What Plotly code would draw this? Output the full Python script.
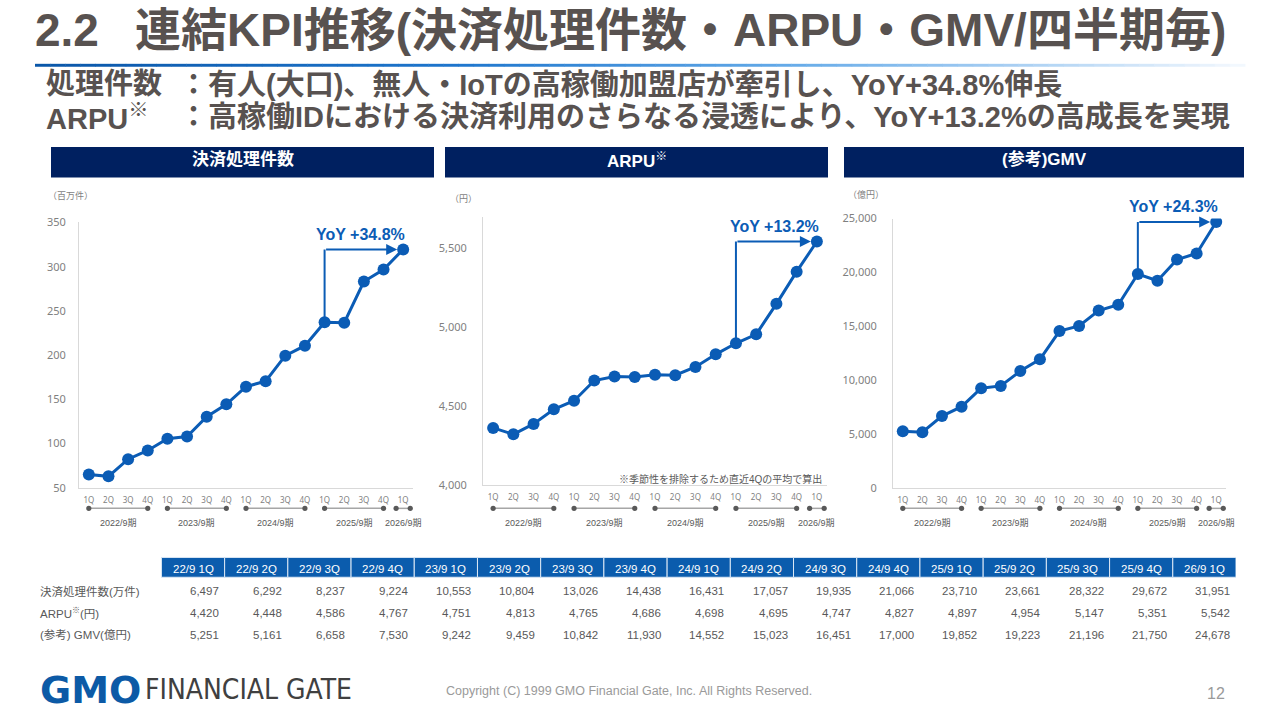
import plotly.graph_objects as go

W, H = 1280, 720


def PX(x):
    return x / W


def PY(y):
    return 1 - y / H


# ---------------- data ----------------
quarters = ["1Q", "2Q", "3Q", "4Q"] * 4 + ["1Q"]
periods = ["22/9 1Q", "22/9 2Q", "22/9 3Q", "22/9 4Q",
           "23/9 1Q", "23/9 2Q", "23/9 3Q", "23/9 4Q",
           "24/9 1Q", "24/9 2Q", "24/9 3Q", "24/9 4Q",
           "25/9 1Q", "25/9 2Q", "25/9 3Q", "25/9 4Q",
           "26/9 1Q"]
fiscal_years = ["2022/9期", "2023/9期", "2024/9期", "2025/9期", "2026/9期"]
fy_quarter_counts = [4, 4, 4, 4, 1]

counts_man = [6497, 6292, 8237, 9224, 10553, 10804, 13026, 14438, 16431,
              17057, 19935, 21066, 23710, 23661, 28322, 29672, 31951]   # 万件
arpu_table = [4420, 4448, 4586, 4767, 4751, 4813, 4765, 4686, 4698,
              4695, 4747, 4827, 4897, 4954, 5147, 5351, 5542]          # 円 (table)
arpu_chart = [4361, 4320, 4386, 4479, 4533, 4661, 4686, 4684, 4698,
              4695, 4747, 4827, 4897, 4954, 5147, 5351, 5542]          # 円 (as plotted)
gmv = [5251, 5161, 6658, 7530, 9242, 9459, 10842, 11930, 14552,
       15023, 16451, 17000, 19852, 19223, 21196, 21750, 24678]         # 億円

row_labels = ["決済処理件数(万件)", "ARPU<sup>※</sup>(円)", "(参考) GMV(億円)"]
yoy_labels = ["YoY +34.8%", "YoY +13.2%", "YoY +24.3%"]
headers = ["決済処理件数", "ARPU<sup>※</sup>", "(参考)GMV"]
units = ["（百万件）", "（円）", "（億円）"]

title_num = "2.2"
title_text = "連結KPI推移(決済処理件数・ARPU・GMV/四半期毎)"
sub_heads = ["処理件数", "ARPU<sup>※</sup>"]
sub_texts = ["：有人(大口)、無人・IoTの高稼働加盟店が牽引し、YoY+34.8%伸長",
             "：高稼働IDにおける決済利用のさらなる浸透により、YoY+13.2%の高成長を実現"]
arpu_note = "※季節性を排除するため直近4Qの平均で算出"

# ---------------- style ----------------
BLUE = "#0B5CB5"
NAVY = "#002060"
TBL_BLUE = "#0B5CAD"
TXT = "#585250"
GRAY = "#7f7f7f"
FONT = "Liberation Sans, Noto Sans CJK JP, sans-serif"
TICKFONT = "Noto Sans, Noto Sans CJK JP, sans-serif"

charts = [
    dict(vals=[c / 100 for c in counts_man], dx=(79, 413), dy=(219, 490),
         rng=[50, 350], dtick=50, fmt="", unit_xy=(46, 192), hx=(51, 434),
         standoff=10),
    dict(vals=arpu_chart, dx=(483, 827), dy=(213, 487),
         rng=[4000, 5700], dtick=500, fmt=",", unit_xy=(448, 195), hx=(445, 828),
         standoff=13),
    dict(vals=gmv, dx=(893, 1226), dy=(215, 490),
         rng=[0, 25000], dtick=5000, fmt=",", unit_xy=(846, 190), hx=(844, 1244),
         standoff=13),
]

fig = go.Figure()
shapes = []
annotations = []
xs = list(range(len(quarters)))

for i, c in enumerate(charts):
    sfx = "" if i == 0 else str(i + 1)
    xa, ya = "x" + sfx, "y" + sfx
    fig.add_trace(go.Scatter(
        x=xs, y=c["vals"], xaxis=xa, yaxis=ya, mode="lines+markers",
        line=dict(color=BLUE, width=3), marker=dict(color=BLUE, size=12),
        showlegend=False, hoverinfo="skip"))
    fig.layout["xaxis" + sfx] = dict(
        domain=[PX(c["dx"][0]), PX(c["dx"][1])], anchor=ya,
        range=[-0.5, len(quarters) - 0.5], tickmode="array", tickvals=xs,
        ticktext=quarters, showgrid=False, zeroline=False, showline=True,
        linecolor="#d9d9d9", linewidth=1, ticks="",
        tickfont=dict(family=TICKFONT, size=8, color=GRAY), ticklabelstandoff=5,
        fixedrange=True)
    fig.layout["yaxis" + sfx] = dict(
        domain=[PY(c["dy"][1]), PY(c["dy"][0])], anchor=xa,
        range=c["rng"], dtick=c["dtick"], tickformat=c["fmt"],
        showgrid=False, zeroline=False, showline=True, linecolor="#d9d9d9",
        linewidth=1, ticks="", tickfont=dict(family=TICKFONT, size=11, color=GRAY),
        ticklabelstandoff=c["standoff"], fixedrange=True)

    v = c["vals"]
    last = len(v) - 1
    ref = last - 4
    # YoY bracket
    shapes.append(dict(type="line", xref=xa, yref=ya, x0=ref, x1=ref,
                       y0=v[ref], y1=v[last], line=dict(color=BLUE, width=2)))
    annotations.append(dict(xref=xa, yref=ya, x=last, y=v[last], ax=ref, ay=v[last],
                            axref=xa, ayref=ya, text="", showarrow=True,
                            arrowhead=2, arrowsize=1.1, arrowwidth=2,
                            arrowcolor=BLUE, standoff=6))
    annotations.append(dict(xref=xa, yref=ya, x=last, y=v[last], text="<b>" + yoy_labels[i] + "</b>",
                            showarrow=False, xanchor="right", yanchor="middle",
                            xshift=4, yshift=15,
                            font=dict(family=FONT, size=16, color=BLUE)))
    # unit label
    annotations.append(dict(xref="paper", yref="paper", x=PX(c["unit_xy"][0]),
                            y=PY(c["unit_xy"][1]), text=units[i], showarrow=False,
                            xanchor="left", yanchor="middle",
                            font=dict(family=FONT, size=9, color=GRAY)))
    # header box
    shapes.append(dict(type="rect", xref="paper", yref="paper",
                       x0=PX(c["hx"][0]), x1=PX(c["hx"][1]), y0=PY(173), y1=PY(142),
                       fillcolor=NAVY, line=dict(width=0)))
    annotations.append(dict(xref="paper", yref="paper",
                            x=PX((c["hx"][0] + c["hx"][1]) / 2), y=PY(155),
                            text="<b>" + headers[i] + "</b>", showarrow=False,
                            xanchor="center", yanchor="middle",
                            font=dict(family=FONT, size=17, color="white")))
    # fiscal-year timeline
    start = 0
    for fy, n in zip(fiscal_years, fy_quarter_counts):
        if n > 1:
            a, b = start, start + n - 1
        else:
            a, b = start - 0.36, start + 0.36
        shapes.append(dict(type="line", xref=xa, yref="paper", x0=a, x1=b,
                           y0=PY(511), y1=PY(511), line=dict(color="#a6a6a6", width=1.5)))
        for xx in (a, b):
            shapes.append(dict(type="circle", xref=xa, yref="paper",
                               xsizemode="pixel", ysizemode="pixel",
                               xanchor=xx, yanchor=PY(511),
                               x0=-2.6, x1=2.6, y0=-2.6, y1=2.6,
                               fillcolor="#595959", line=dict(width=0)))
        annotations.append(dict(xref=xa, yref="paper", x=(start + start + n - 1) / 2,
                                y=PY(526), text=fy, showarrow=False,
                                xanchor="center", yanchor="middle",
                                font=dict(family=FONT, size=9, color="#595959")))
        start += n

# ARPU note
annotations.append(dict(xref="paper", yref="paper", x=PX(824), y=PY(481),
                        text=arpu_note, showarrow=False, xanchor="right",
                        yanchor="middle", font=dict(family=FONT, size=10, color="#595959")))

# ---------------- title & subtitle ----------------
annotations.append(dict(xref="paper", yref="paper", x=PX(33), y=PY(22),
                        text="<b>" + title_num + "</b>", showarrow=False,
                        xanchor="left", yanchor="middle",
                        font=dict(family=FONT, size=46, color=TXT)))
annotations.append(dict(xref="paper", yref="paper", x=PX(133), y=PY(22),
                        text="<b>" + title_text + "</b>", showarrow=False,
                        xanchor="left", yanchor="middle",
                        font=dict(family=FONT, size=46, color=TXT)))
# gradient rule under title
n_seg = 80
stops = [(0.0, (10, 86, 168)), (0.35, (30, 118, 205)), (0.62, (100, 170, 232)),
         (0.8, (165, 205, 242)), (1.0, (245, 249, 254))]


def lerp_col(t):
    for (t0, c0), (t1, c1) in zip(stops[:-1], stops[1:]):
        if t0 <= t <= t1:
            f = (t - t0) / (t1 - t0)
            return "rgb(%d,%d,%d)" % tuple(round(c0[k] + (c1[k] - c0[k]) * f) for k in range(3))
    return "rgb(245,249,254)"


x_start, x_end = 35, 1245
for s in range(n_seg):
    xa0 = x_start + (x_end - x_start) * s / n_seg
    xa1 = x_start + (x_end - x_start) * (s + 1) / n_seg + 0.5
    shapes.append(dict(type="rect", xref="paper", yref="paper",
                       x0=PX(xa0), x1=PX(xa1), y0=PY(60), y1=PY(57),
                       fillcolor=lerp_col((s + 0.5) / n_seg), line=dict(width=0)))

for j, (hd, tx) in enumerate(zip(sub_heads, sub_texts)):
    yy = 78 + j * 33
    annotations.append(dict(xref="paper", yref="paper", x=PX(44), y=PY(yy),
                            text="<b>" + hd + "</b>", showarrow=False,
                            xanchor="left", yanchor="middle",
                            font=dict(family=FONT, size=29, color=TXT)))
    annotations.append(dict(xref="paper", yref="paper", x=PX(177), y=PY(yy),
                            text="<b>" + tx + "</b>", showarrow=False,
                            xanchor="left", yanchor="middle",
                            font=dict(family=FONT, size=29, color=TXT)))

# ---------------- table (on its own hidden axes: column index x, row index y) ----------------
n_col = len(periods)
fig.layout["xaxis4"] = dict(domain=[PX(35), PX(1236)], anchor="y4",
                            range=[-2.5, n_col - 0.5], visible=False, fixedrange=True)
fig.layout["yaxis4"] = dict(domain=[PY(650), PY(560)], anchor="x4",
                            range=[3.5, -0.5], visible=False, fixedrange=True)
fig.add_trace(go.Scatter(x=[-2.5, n_col - 0.5], y=[-0.5, 3.5], xaxis="x4", yaxis="y4",
                         mode="markers", marker=dict(opacity=0), showlegend=False,
                         hoverinfo="skip"))
rows = [counts_man, arpu_table, gmv]
for k, p in enumerate(periods):
    shapes.append(dict(type="rect", xref="x4", yref="y4", x0=k - 0.5, x1=k + 0.5,
                       y0=-0.45, y1=0.45, fillcolor=TBL_BLUE,
                       line=dict(color="#dce8f5", width=1)))
    annotations.append(dict(xref="x4", yref="y4", x=k, y=0, text=p, showarrow=False,
                            xanchor="center", yanchor="middle", yshift=-2,
                            font=dict(family=FONT, size=11.5, color="white")))
    for r, vals in enumerate(rows):
        annotations.append(dict(xref="x4", yref="y4", x=k + 0.5, y=r + 1,
                                text=f"{vals[k]:,}", showarrow=False,
                                xanchor="right", yanchor="middle", xshift=-4, yshift=-2,
                                font=dict(family=FONT, size=11.5, color="#595959")))
for r, lab in enumerate(row_labels):
    annotations.append(dict(xref="x4", yref="y4", x=-2.5, y=r + 1, text=lab,
                            showarrow=False, xanchor="left", yanchor="middle", xshift=3,
                            yshift=-2,
                            font=dict(family=FONT, size=11.5, color="#595959")))

# ---------------- footer ----------------
annotations.append(dict(xref="paper", yref="paper", x=PX(38), y=PY(696),
                        text="<b>GMO</b>", showarrow=False, xanchor="left",
                        yanchor="middle",
                        font=dict(family="DejaVu Sans, sans-serif", size=38, color="#0C5AA6")))
annotations.append(dict(xref="paper", yref="paper", x=PX(143), y=PY(696),
                        text="FINANCIAL GATE", showarrow=False, xanchor="left",
                        yanchor="middle",
                        font=dict(family="DejaVu Sans Condensed, Liberation Sans Narrow, sans-serif",
                                  size=28, color="#404040")))
annotations.append(dict(xref="paper", yref="paper", x=PX(444), y=PY(698),
                        text="Copyright (C) 1999 GMO Financial Gate, Inc. All Rights Reserved.",
                        showarrow=False, xanchor="left", yanchor="middle",
                        font=dict(family=FONT, size=12.5, color="#9a9a9a")))
annotations.append(dict(xref="paper", yref="paper", x=PX(1227), y=PY(700),
                        text="12", showarrow=False, xanchor="right", yanchor="middle",
                        font=dict(family=FONT, size=16, color="#9a9a9a")))

fig.update_layout(width=W, height=H, margin=dict(l=0, r=0, t=0, b=0),
                  paper_bgcolor="white", plot_bgcolor="white",
                  shapes=shapes, annotations=annotations, showlegend=False)

pin_script = ("var gd=document.getElementById('{plot_id}');"
              "gd.style.position='fixed';gd.style.left='0px';gd.style.top='0px';"
              "document.body.style.margin='0';document.body.style.overflow='hidden';")
fig.write_html("out.html", config=dict(displayModeBar=False), post_script=pin_script)
